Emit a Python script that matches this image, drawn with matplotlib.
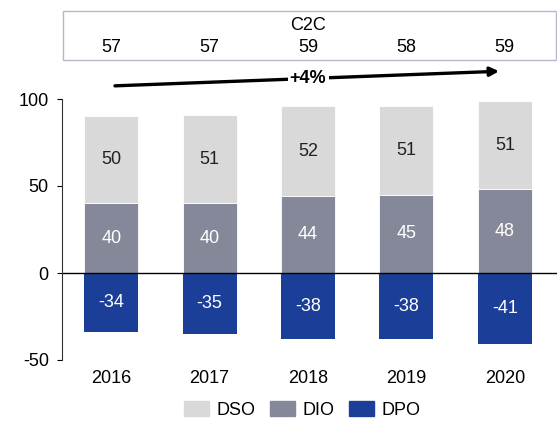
import matplotlib.pyplot as plt
import matplotlib.patches as mpatches
from matplotlib.transforms import blended_transform_factory
import numpy as np

plt.rcParams['font.family'] = ['Liberation Sans', 'DejaVu Sans']
plt.rcParams['axes.unicode_minus'] = False

years = ["2016", "2017", "2018", "2019", "2020"]
dso = [50, 51, 52, 51, 51]
dio = [40, 40, 44, 45, 48]
dpo = [-34, -35, -38, -38, -41]
c2c = [57, 57, 59, 58, 59]
growth = "+4%"

col_dso = "#d9d9d9"
col_dio = "#858898"
col_dpo = "#1b3e98"

fs = 13

fig = plt.figure(figsize=(5.57, 4.22), dpi=100)
ax = fig.add_axes([62/557, 62/422, 495/557, 261/422])

x = np.arange(len(years))
w = 0.55
ax.bar(x, dio, w, color=col_dio, edgecolor="white", linewidth=0.6, label="DIO")
ax.bar(x, dso, w, bottom=dio, color=col_dso, edgecolor="white", linewidth=0.6, label="DSO")
ax.bar(x, dpo, w, color=col_dpo, label="DPO")

for i in range(len(years)):
    ax.text(x[i], dio[i] + dso[i] / 2, str(dso[i]), ha="center", va="center",
            fontsize=fs, color="#222222")
    ax.text(x[i], dio[i] / 2, str(dio[i]), ha="center", va="center",
            fontsize=fs, color="white")
    ax.text(x[i], dpo[i] / 2, str(dpo[i]), ha="center", va="center",
            fontsize=fs, color="white")

ax.axhline(0, color="black", linewidth=1)
ax.set_xlim(-0.5, 4.53)
ax.set_ylim(-50, 100)
ax.set_yticks([-50, 0, 50, 100])
ax.set_xticks(x)
ax.set_xticklabels(years)
ax.tick_params(axis="x", length=0, pad=7, labelsize=fs)
ax.tick_params(axis="y", labelsize=fs, length=3.5, pad=6)
for s in ["top", "right", "bottom"]:
    ax.spines[s].set_visible(False)
ax.spines["left"].set_color("#333333")

# C2C box above the chart
box = mpatches.Rectangle((63/557, 1 - 60/422), 493/557, 49/422,
                         transform=fig.transFigure, fill=False,
                         edgecolor="#b4b6cc", linewidth=1)
fig.patches.append(box)
tr = blended_transform_factory(ax.transData, fig.transFigure)
ax.text(2, 1 - 26/422, "C2C", transform=tr, ha="center", va="center", fontsize=fs)
for i in range(len(years)):
    ax.text(x[i], 1 - 47/422, str(c2c[i]), transform=tr, ha="center",
            va="center", fontsize=fs)

# growth arrow
ax.annotate("", xy=(3.97, 116), xytext=(0.01, 107.5),
            arrowprops=dict(arrowstyle="-|>", color="black", lw=2.4,
                            mutation_scale=13),
            annotation_clip=False)
ax.text(2, 111.5, growth, ha="center", va="center", fontsize=fs,
        fontweight="bold", bbox=dict(facecolor="white", edgecolor="none", pad=1.5))

handles = [mpatches.Patch(color=col_dso, label="DSO"),
           mpatches.Patch(color=col_dio, label="DIO"),
           mpatches.Patch(color=col_dpo, label="DPO")]
fig.legend(handles=handles, loc="center", bbox_to_anchor=(302/557, 1 - 410/422),
           ncol=3, frameon=False, fontsize=fs, handlelength=1.4,
           handleheight=0.85, columnspacing=0.8, handletextpad=0.4,
           borderpad=0)

fig.savefig("out.png", dpi=100)
